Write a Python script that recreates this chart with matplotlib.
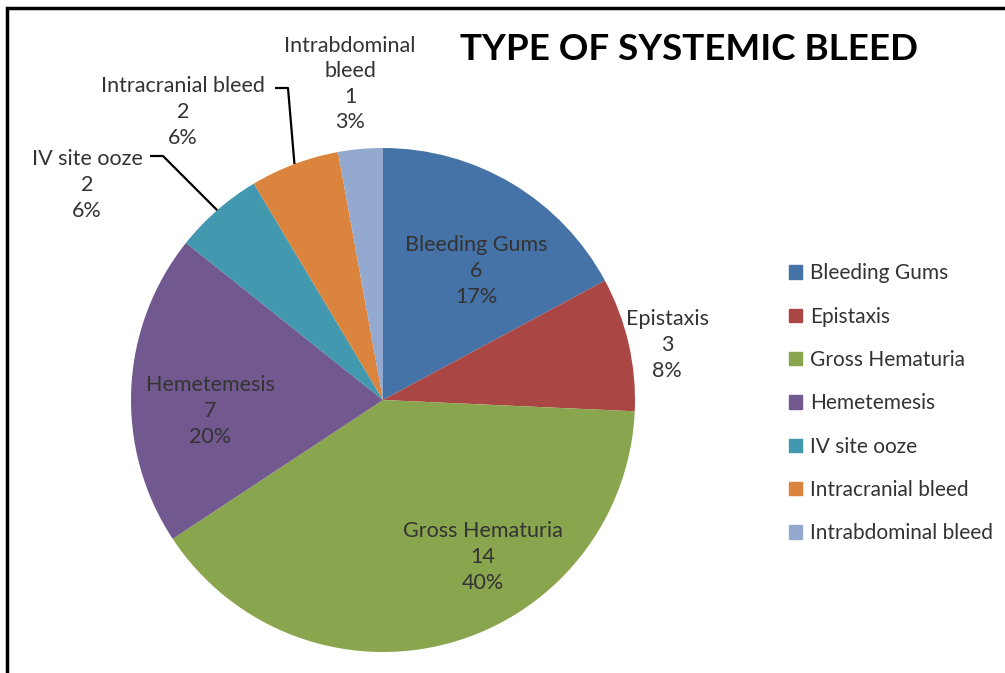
import numpy as np
import matplotlib
matplotlib.use('Agg')
import matplotlib.pyplot as plt
from matplotlib.patches import Rectangle

# data
categories = ['Bleeding Gums', 'Epistaxis', 'Gross Hematuria', 'Hemetemesis',
              'IV site ooze', 'Intracranial bleed', 'Intrabdominal bleed']
counts = [6, 3, 14, 7, 2, 2, 1]
percents = [17, 8, 40, 20, 6, 6, 3]
colors = ['#4572A7', '#AA4643', '#89A54E', '#71588F', '#4198AF', '#DB843D', '#93A9CF']

plt.rcParams['font.family'] = ['Lato', 'DejaVu Sans']

W, H = 1005, 673
fig = plt.figure(figsize=(W / 100, H / 100), dpi=100)
ax = fig.add_axes([0, 0, 1, 1])

# pie geometry (pixel units, y up)
cx, cy, r = 383, H - 400, 252
wedges, _ = ax.pie(counts, colors=colors, startangle=90, counterclock=False,
                   center=(cx, cy), radius=r, frame=True,
                   wedgeprops=dict(linewidth=0))
ax.set_xlim(0, W)
ax.set_ylim(0, H)
ax.set_aspect('equal')
ax.axis('off')

txt_color = '#333333'
fs = 15.5

def label_text(i):
    name = categories[i]
    if name == 'Intrabdominal bleed':
        name = 'Intrabdominal\nbleed'
    return f'{name}\n{counts[i]}\n{percents[i]}%'

# label block centers (pixels, image coords)
label_pos = {
    0: (476, 271),
    1: (667, 345),
    2: (483, 557),
    3: (210, 411),
    4: (87, 185),
    5: (183, 112),
    6: (350, 84),
}
for i, (x, y) in label_pos.items():
    ax.text(x, H - y, label_text(i), ha='center', va='center', fontsize=fs,
            color=txt_color, linespacing=1.35)

# leader lines for the two small slices
total = sum(counts)
cum = np.cumsum([0] + counts)
leaders = {4: (150, 156, 163), 5: (275, 88, 288)}
for i, (x0, y0, x1) in leaders.items():
    mid = 90 - (cum[i] + cum[i + 1]) / 2 / total * 360
    ex = cx + r * np.cos(np.radians(mid))
    ey = cy + r * np.sin(np.radians(mid))
    ax.plot([x0, x1, ex], [H - y0, H - y0, ey], color='black', lw=1.6,
            solid_capstyle='butt')

ax.text(689, H - 50, 'TYPE OF SYSTEMIC BLEED', ha='center', va='center',
        fontsize=26.5, fontweight='bold', color='black')

# legend
handles = [Rectangle((0, 0), 1, 1, color=c) for c in colors]
leg = ax.legend(handles, categories, loc='upper left',
                bbox_to_anchor=(781 / W, 1 - 255 / H), frameon=False,
                fontsize=15, labelspacing=1.12, handlelength=0.6,
                handleheight=0.6, handletextpad=0.4, borderaxespad=0)
for t in leg.get_texts():
    t.set_color(txt_color)

# frame around the chart (cropped on right and bottom)
fig.add_artist(Rectangle((7 / W, -0.1), 1.2, (H - 8) / H + 0.1,
                         transform=fig.transFigure, fill=False,
                         edgecolor='black', lw=2.5))

fig.savefig('out.png', dpi=100)
